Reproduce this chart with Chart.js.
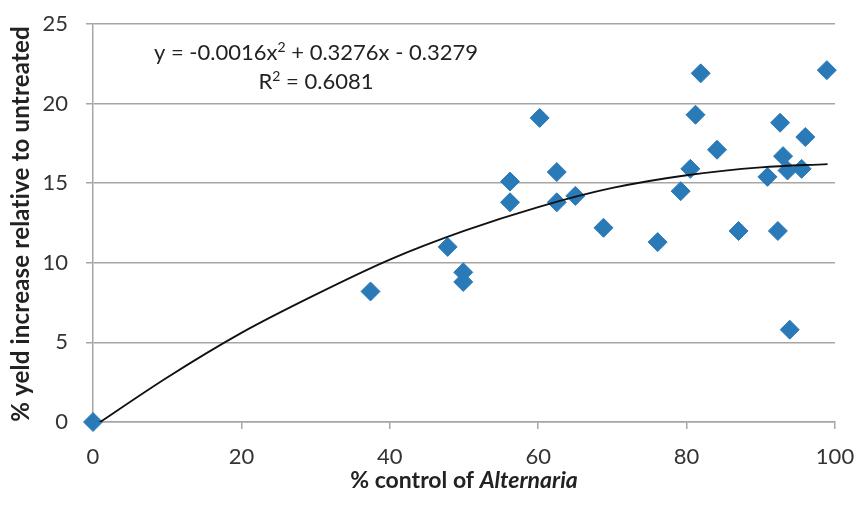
<!DOCTYPE html>
<html>
<head>
<meta charset="utf-8">
<script src="https://cdn.jsdelivr.net/npm/chart.js@4.4.1/dist/chart.umd.min.js"></script>
<style>
  html, body { margin: 0; padding: 0; background: #fff; }
  .graph-container { width: 856px; height: 505px; }
</style>
</head>
<body>
<div class="graph-container"><canvas id="chart"></canvas></div>
<script>
// % control of Alternaria vs % yield increase
const controlPct = [0, 37.4, 47.8, 49.9, 49.9, 56.2, 56.2, 60.2, 62.5, 62.5, 65.0, 68.8, 76.1, 79.2, 80.5, 81.2, 81.9, 84.1, 87.0, 90.9, 92.3, 92.6, 93.0, 93.6, 93.9, 95.5, 96.0, 98.9];
const yieldPct = [0, 8.2, 11.0, 9.4, 8.8, 15.1, 13.8, 19.1, 15.7, 13.8, 14.2, 12.2, 11.3, 14.5, 15.9, 19.3, 21.9, 17.1, 12.0, 15.4, 12.0, 18.8, 16.7, 15.8, 5.8, 15.9, 17.9, 22.1];

// polynomial trendline
const trendX = [0, 10, 20, 30, 40, 50, 60, 70, 80, 90, 99];
const trendY = [-0.3, 2.8, 5.6, 8.0, 10.2, 12.0, 13.5, 14.7, 15.5, 16.0, 16.2];

const xTicks = [0, 20, 40, 60, 80, 100];
const yTicks = [0, 5, 10, 15, 20, 25];

const eqLine1 = ["y = -0.0016x", "2", " + 0.3276x - 0.3279"];
const eqLine2 = ["R", "2", " = 0.6081"];
const xTitle = ["% control of ", "Alternaria"];
const yTitle = "% yeld increase relative to untreated";

const FONT = "Lato, 'Open Sans', sans-serif";
const gridGray = "#a6a6a6";

const pts = controlPct.map((x, i) => ({ x, y: yieldPct[i] }));
const trend = trendX.map((x, i) => ({ x, y: trendY[i] }));

const noPad = (s) => { s.paddingLeft = 0; s.paddingRight = 0; s.paddingTop = 0; s.paddingBottom = 0; };

// equation box + axis titles (mixed italic / superscripts)
const textPlugin = {
  id: "texts",
  afterDraw(chart) {
    const ctx = chart.ctx;
    const area = chart.chartArea;
    ctx.save();
    ctx.fillStyle = "#222";
    ctx.textBaseline = "alphabetic";
    ctx.textAlign = "left";

    const cx = 316;
    const drawLine = (parts, y) => {
      const big = "22px " + FONT;
      const small = "14px " + FONT;
      ctx.font = big;
      const w0 = ctx.measureText(parts[0]).width;
      const w2 = ctx.measureText(parts[2]).width;
      ctx.font = small;
      const w1 = ctx.measureText(parts[1]).width;
      let x = cx - (w0 + w1 + w2) / 2;
      ctx.font = big;
      ctx.fillText(parts[0], x, y);
      x += w0;
      ctx.font = small;
      ctx.fillText(parts[1], x, y - 8);
      x += w1;
      ctx.font = big;
      ctx.fillText(parts[2], x, y);
    };
    drawLine(eqLine1, 60);
    drawLine(eqLine2, 89);

    // x title
    const fb = "bold 23px " + FONT;
    const fi = "italic bold 23px " + FONT;
    ctx.font = fb;
    const a = ctx.measureText(xTitle[0]).width;
    ctx.font = fi;
    const b = ctx.measureText(xTitle[1]).width;
    let tx = (area.left + area.right) / 2 - (a + b) / 2;
    ctx.font = fb;
    ctx.fillText(xTitle[0], tx, 488);
    ctx.font = fi;
    ctx.fillText(xTitle[1], tx + a, 488);

    // y title
    ctx.translate(29, 224);
    ctx.rotate(-Math.PI / 2);
    ctx.font = "bold 24px " + FONT;
    ctx.letterSpacing = "0.2px";
    ctx.textAlign = "center";
    ctx.fillText(yTitle, 0, 0);
    ctx.restore();
  }
};

new Chart(document.getElementById("chart").getContext("2d"), {
  type: "scatter",
  data: {
    datasets: [
      {
        type: "line",
        label: "trend",
        data: trend,
        borderColor: "#111",
        borderWidth: 1.8,
        pointRadius: 0,
        fill: false,
        tension: 0.4,
        cubicInterpolationMode: "monotone",
      },
      {
        label: "data",
        data: pts,
        pointStyle: "rectRot",
        pointRadius: 9.5,
        pointHoverRadius: 9.5,
        backgroundColor: "#2a7ab8",
        borderColor: "#2a7ab8",
        borderWidth: 1,
        clip: false,
      },
    ],
  },
  options: {
    responsive: true,
    maintainAspectRatio: false,
    animation: false,
    layout: { padding: { top: 24, right: 21, left: 0, bottom: 0 } },
    plugins: { legend: { display: false }, tooltip: { enabled: false } },
    scales: {
      x: {
        type: "linear",
        min: 0,
        max: 100,
        afterBuildTicks: (s) => { s.ticks = xTicks.map((v) => ({ value: v })); },
        afterFit: (s) => { s.height = 83; noPad(s); },
        grid: { drawOnChartArea: false, drawTicks: true, tickLength: 7, color: gridGray, lineWidth: 1.5 },
        border: { display: true, color: gridGray, width: 1.5 },
        ticks: { color: "#333", font: { family: FONT, size: 22 }, padding: 15, maxRotation: 0 },
      },
      y: {
        type: "linear",
        min: 0,
        max: 25,
        afterBuildTicks: (s) => { s.ticks = yTicks.map((v) => ({ value: v })); },
        afterFit: (s) => { s.width = 93; noPad(s); },
        grid: { drawTicks: true, tickLength: 7, color: gridGray, lineWidth: 1.5 },
        border: { display: true, color: gridGray, width: 1.5 },
        ticks: { color: "#333", font: { family: FONT, size: 22 }, padding: 18 },
      },
    },
  },
  plugins: [textPlugin],
});
</script>
</body>
</html>
